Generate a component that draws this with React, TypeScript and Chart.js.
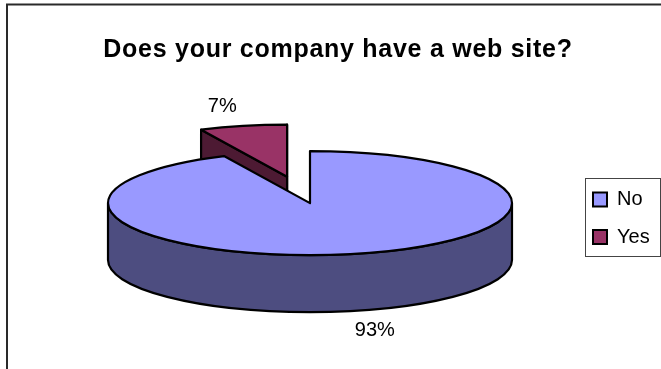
import React, { useEffect, useRef } from "react";
import { Chart, registerables } from "chart.js";

Chart.register(...registerables);

const TITLE = "Does your company have a web site?";
const categories = ["No", "Yes"];
const values = [93, 7];
const topColors = ["#9999ff", "#993366"];
const wallColors = ["#4d4d80", "#4d1a33"];
const explosion = [0, 105];

const FONT = '"Liberation Sans", Arial, sans-serif';
const TILT = 52 / 202; // vertical squash of the pie disc
const DEPTH = 57; // thickness of the disc

// Screen position of a slice's apex once it has been pulled out of the pie.
function apexOf(el: any, index: number) {
  const mid = (el.startAngle + el.endAngle) / 2;
  return {
    x: el.x + Math.cos(mid) * explosion[index],
    y: el.y + Math.sin(mid) * explosion[index] * TILT,
    mid,
  };
}

function rimPath(ctx: CanvasRenderingContext2D, x: number, y: number, r: number, a0: number, a1: number) {
  ctx.ellipse(x, y, r, r * TILT, 0, a0, a1);
}

const pie3d = {
  id: "pie3d",
  afterLayout(chart: any) {
    // Legend sits at a fixed spot inside its framed box.
    const legend = chart.legend;
    legend.left = 575.5;
    legend.top = 172;
    legend.bottom = 369;

    // The title is tracked out a little; only its own draw call sees the spacing.
    const block = chart.titleBlock;
    if (!block.__spaced) {
      const drawTitle = block.draw;
      block.draw = function () {
        const ctx = chart.ctx;
        ctx.save();
        ctx.letterSpacing = "0.73px";
        drawTitle.call(block);
        ctx.restore();
      };
      block.__spaced = true;
    }
  },
  beforeDraw(chart: any) {
    const ctx = chart.ctx;
    ctx.save();
    ctx.fillStyle = "#fff";
    ctx.fillRect(0, 0, chart.width, chart.height);
    ctx.strokeStyle = "#2a2a2a";
    ctx.lineWidth = 2;
    ctx.strokeRect(7, 4.5, 900, 700);
    ctx.lineWidth = 1;
    ctx.strokeStyle = "#444";
    ctx.strokeRect(585.5, 178.5, 75, 78);
    ctx.restore();
  },
  beforeDatasetDraw() {
    return false;
  },
  afterDatasetsDraw(chart: any) {
    const ctx = chart.ctx;
    const arcs = chart.getDatasetMeta(0).data;
    ctx.save();
    ctx.lineJoin = "round";
    ctx.lineWidth = 2.2;
    ctx.strokeStyle = "#000";

    // Painter's order: the pulled-out back slice first, the big slice over it.
    for (let i = arcs.length - 1; i >= 0; i--) {
      const el = arcs[i];
      const { x, y } = apexOf(el, i);
      const r = el.outerRadius;
      const a0 = el.startAngle;
      const a1 = el.endAngle;
      ctx.fillStyle = wallColors[i];

      // Front-facing rim
      const from = Math.max(a0, 0);
      const to = Math.min(a1, Math.PI);
      if (to > from) {
        ctx.beginPath();
        rimPath(ctx, x, y, r, from, to);
        ctx.lineTo(x + Math.cos(to) * r, y + Math.sin(to) * r * TILT + DEPTH);
        ctx.ellipse(x, y + DEPTH, r, r * TILT, 0, to, from, true);
        ctx.closePath();
        ctx.fill();
        ctx.stroke();
      }

      // Cut faces of the slice
      if (explosion[i] > 0) {
        for (const a of [a0, a1]) {
          const ex = x + Math.cos(a) * r;
          const ey = y + Math.sin(a) * r * TILT;
          ctx.beginPath();
          ctx.moveTo(x, y);
          ctx.lineTo(ex, ey);
          ctx.lineTo(ex, ey + DEPTH);
          ctx.lineTo(x, y + DEPTH);
          ctx.closePath();
          ctx.fill();
          ctx.stroke();
        }
      }

      // Top face comes from the library's arc element, squashed into an ellipse
      ctx.save();
      ctx.translate(x, y);
      ctx.scale(1, TILT);
      ctx.translate(-el.x, -el.y);
      el.draw(ctx);
      ctx.restore();

      ctx.beginPath();
      ctx.moveTo(x, y);
      rimPath(ctx, x, y, r, a0, a1);
      ctx.closePath();
      ctx.stroke();
    }

    // Percentage labels around the disc
    const total = values.reduce((s, v) => s + v, 0);
    ctx.fillStyle = "#000";
    ctx.font = `20px ${FONT}`;
    ctx.textAlign = "center";
    ctx.textBaseline = "middle";
    arcs.forEach((el: any, i: number) => {
      const { x, y, mid } = apexOf(el, i);
      const r = el.outerRadius;
      const lx = x + Math.cos(mid) * r * 1.47;
      const ly = y + Math.sin(mid) * r * TILT * 1.39 + (Math.sin(mid) > 0 ? DEPTH : 0);
      ctx.fillText(`${Math.round((values[i] / total) * 100)}%`, lx, ly);
    });
    ctx.restore();
  },
};

export default function App() {
  const ref = useRef<HTMLCanvasElement>(null);

  useEffect(() => {
    const chart = new Chart(ref.current as HTMLCanvasElement, {
      type: "pie",
      data: {
        labels: categories,
        datasets: [
          {
            data: values,
            backgroundColor: topColors,
            borderWidth: 0,
            radius: 202,
          },
        ],
      },
      options: {
        responsive: false,
        animation: false,
        events: [],
        layout: { padding: { left: 15, right: 0, top: 0, bottom: 33.3 } },
        plugins: {
          tooltip: { enabled: false },
          title: {
            display: true,
            text: TITLE,
            color: "#000",
            font: { family: FONT, size: 25, weight: "bold" },
            padding: { top: 35, bottom: 5.5 },
          },
          legend: {
            position: "right",
            align: "start",
            maxWidth: 56,
            labels: {
              color: "#000",
              font: { family: FONT, size: 20 },
              boxWidth: 14,
              boxHeight: 14,
              padding: 17.5,
              generateLabels: () =>
                categories.map((text, i) => ({
                  text,
                  fillStyle: topColors[i],
                  strokeStyle: "#000",
                  lineWidth: 2,
                  index: i,
                })),
            },
          },
        },
      },
      plugins: [pie3d],
    } as any);
    return () => chart.destroy();
  }, []);

  return (
    <div style={{ position: "absolute", left: 0, top: 0 }}>
      <canvas ref={ref} width={661} height={369} style={{ display: "block" }} />
    </div>
  );
}
